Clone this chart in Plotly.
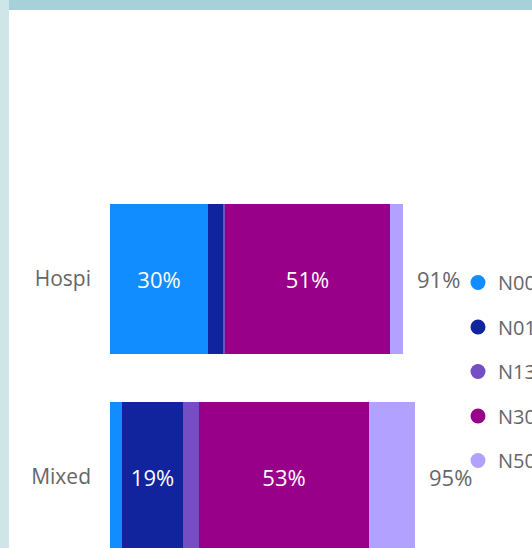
import plotly.graph_objects as go

categories = ["Hospi", "Mixed"]
series_names = ["N00", "N01", "N13", "N30", "N50"]
series_colors = ["#118DFF", "#12239E", "#744EC2", "#99008A", "#B3A1FF"]
n00 = [30.4, 3.7]
n01 = [4.9, 19.0]
n13 = [0.6, 5.0]
n30 = [51.4, 53.0]
n50 = [4.0, 14.3]
series_values = [n00, n01, n13, n30, n50]
label_min = 15  # segments narrower than this get no data label

FONT = "Segoe UI, Open Sans, sans-serif"
GRAY = "#666666"

fig = go.Figure()
for name, color, vals in zip(series_names, series_colors, series_values):
    fig.add_trace(go.Bar(
        y=categories, x=vals, orientation="h", name=name,
        marker=dict(color=color, line=dict(width=0)),
        width=0.76,
        text=[f"{round(v)}%" if v >= label_min else "" for v in vals],
        textposition="inside", insidetextanchor="middle", textangle=0,
        constraintext="none",
        insidetextfont=dict(color="white", size=22, family=FONT),
        hoverinfo="skip", showlegend=False,
    ))
    fig.add_trace(go.Scatter(
        x=[None], y=[None], mode="markers", name=name, legendgroup=name,
        marker=dict(color=color, size=15, symbol="circle"),
        showlegend=True,
    ))

totals = [sum(s[i] for s in series_values) for i in range(len(categories))]
for cat, tot in zip(categories, totals):
    fig.add_annotation(x=tot, y=cat, text=f"{round(tot)}%", showarrow=False,
                       xanchor="left", xshift=12,
                       font=dict(size=22, color=GRAY, family=FONT))

H = 538.0
shapes = [
    dict(type="rect", xref="paper", yref="paper", x0=-110/321, x1=1 + 101/321,
         y0=1, y1=1 + 10/H, fillcolor="#A6D1D8", line=dict(width=0), layer="above"),
    dict(type="rect", xref="paper", yref="paper", x0=-110/321, x1=(9 - 110)/321,
         y0=0, y1=1 + 10/H, fillcolor="#CFE6E9", line=dict(width=0), layer="above"),
]

fig.update_layout(
    width=532, height=548,
    margin=dict(l=110, r=101, t=10, b=0, pad=0, autoexpand=False),
    barmode="stack", bargap=0,
    paper_bgcolor="white", plot_bgcolor="white",
    font=dict(family=FONT, color=GRAY),
    shapes=shapes,
    showlegend=True,
    legend=dict(x=(458 - 110) / 321, xanchor="left", y=(548 - 263) / H, yanchor="top",
                font=dict(size=20, color=GRAY, family=FONT),
                traceorder="grouped", tracegroupgap=15.5,
                bgcolor="rgba(0,0,0,0)", borderwidth=0),
    xaxis=dict(range=[0, 100], visible=False, fixedrange=True),
    yaxis=dict(range=[1.3586, -1.3586], showgrid=False, zeroline=False, showline=False,
               ticks="", ticklabelstandoff=18,
               tickfont=dict(size=21, color=GRAY, family=FONT), fixedrange=True),
)

fig.write_html("out.html", config={"displayModeBar": False},
               post_script="document.body.style.margin='0';document.body.style.overflow='hidden';")
